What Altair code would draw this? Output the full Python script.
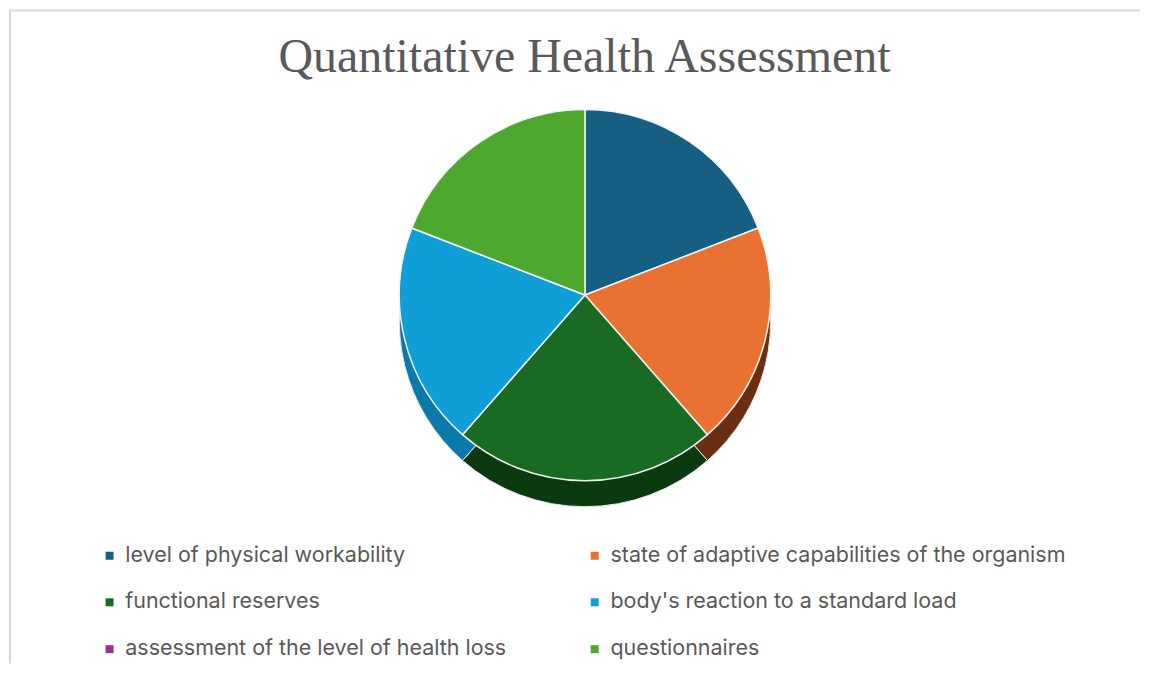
import altair as alt
import pandas as pd

categories = [
    "level of physical workability",
    "state of adaptive capabilities of the organism",
    "functional reserves",
    "body's reaction to a standard load",
    "assessment of the level of health loss",
    "questionnaires",
]
values = [19.1, 19.4, 22.9, 19.4, 0.0, 19.1]
top_colors = ["#156082", "#E97132", "#196B24", "#0F9ED5", "#A02B93", "#4EA72E"]
side_colors = ["#0f4660", "#6a2f13", "#0b3a11", "#0b7aab", "#7a1f70", "#3a7d22"]
title_text = "Quantitative Health Assessment"

# legend fills column by column; reorder so it reads row by row like the original
legend_order = [0, 2, 4, 1, 3, 5]
legend_domain = [categories[i] for i in legend_order]
legend_range = [top_colors[i] for i in legend_order]
side_range = [side_colors[i] for i in legend_order]

df = pd.DataFrame({"category": categories, "value": values, "order": list(range(len(categories)))})

W, H = 1133, 655
CX, CY, R, DEPTH = 577, 286, 186, 26

base = alt.Chart(df)

side = base.mark_arc(outerRadius=R, stroke="#e8e8e8", strokeWidth=1).encode(
    theta=alt.Theta("value:Q", stack=True),
    order=alt.Order("order:Q"),
    color=alt.Color("category:N",
                    scale=alt.Scale(domain=legend_domain, range=side_range), legend=None),
    x=alt.value(CX), y=alt.value(CY + DEPTH),
)

top = base.mark_arc(outerRadius=R, stroke="#f2f2f2", strokeWidth=1.5).encode(
    theta=alt.Theta("value:Q", stack=True),
    order=alt.Order("order:Q"),
    color=alt.Color(
        "category:N",
        scale=alt.Scale(domain=legend_domain, range=legend_range),
        legend=alt.Legend(
            title=None, orient="none", legendX=90, legendY=536,
            columns=2, columnPadding=77, rowPadding=24,
            symbolType="square", symbolSize=64, symbolStrokeWidth=0,
            labelFont="Inter", labelFontSize=21.5, labelColor="#595959",
            labelLimit=0, labelOffset=5,
        ),
    ),
    x=alt.value(CX), y=alt.value(CY),
)

border_df = pd.DataFrame({"k": [0]})
left_border = alt.Chart(border_df).mark_rule(color="#d9d9d9", strokeWidth=2).encode(
    x=alt.value(1), y=alt.value(0), y2=alt.value(H))
top_border = alt.Chart(border_df).mark_rule(color="#d9d9d9", strokeWidth=2).encode(
    x=alt.value(0), x2=alt.value(W), y=alt.value(1))

chart = alt.layer(left_border, top_border, side, top).resolve_scale(color="independent").properties(
    width=W, height=H, padding=0,
    title=alt.TitleParams(title_text, font="Liberation Serif", fontSize=48, fontWeight="normal",
                          color="#595959", anchor="middle", offset=0, dy=74, dx=10),
).configure_view(stroke=None)

chart.save("out.html", embed_options={"renderer": "svg", "actions": False})
